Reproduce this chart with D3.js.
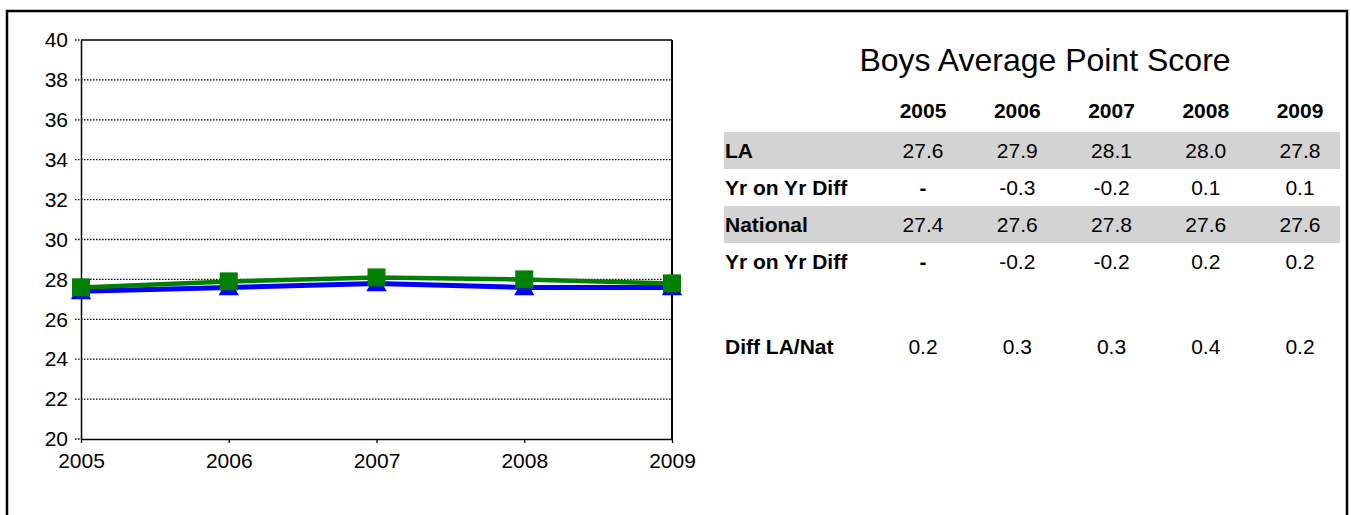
<!DOCTYPE html>
<html>
<head>
<meta charset="utf-8">
<script src="https://cdn.jsdelivr.net/npm/d3@7"></script>
<style>
  html, body { margin: 0; padding: 0; background: #fff; }
  svg { display: block; }
  text { font-family: "Liberation Sans", Arial, sans-serif; fill: #000; }
</style>
</head>
<body>
<svg id="chart" width="1351" height="515"></svg>
<script>
// ---- data ----
const years = ["2005", "2006", "2007", "2008", "2009"];
const laValues = [27.6, 27.9, 28.1, 28.0, 27.8];
const nationalValues = [27.4, 27.6, 27.8, 27.6, 27.6];
const laYoY = ["-", "-0.3", "-0.2", "0.1", "0.1"];
const nationalYoY = ["-", "-0.2", "-0.2", "0.2", "0.2"];
const diffLaNat = ["0.2", "0.3", "0.3", "0.4", "0.2"];
const yTicks = [20, 22, 24, 26, 28, 30, 32, 34, 36, 38, 40];
const title = "Boys Average Point Score";

const svg = d3.select("#chart");

// outer border
svg.append("rect")
  .attr("x", 7).attr("y", 11).attr("width", 1340).attr("height", 530)
  .attr("fill", "#fff").attr("stroke", "#000").attr("stroke-width", 2.5);

// ---- line chart ----
const plot = { left: 81, right: 672, top: 40, bottom: 439 };
const x = d3.scalePoint().domain(years).range([plot.left, plot.right]);
const y = d3.scaleLinear().domain([20, 40]).range([plot.bottom, plot.top]);

const g = svg.append("g");

// gridlines + left dotted ticks
g.selectAll("line.grid").data(yTicks).enter().append("line")
  .attr("class", "grid")
  .attr("x1", plot.left - 6)
  .attr("x2", d => (d === 20 || d === 40) ? plot.left : plot.right)
  .attr("y1", d => y(d)).attr("y2", d => y(d))
  .attr("stroke", "#000").attr("stroke-width", 1.3)
  .attr("stroke-dasharray", "1.5,1.5");

// plot frame
g.append("line").attr("x1", plot.left).attr("x2", plot.right)
  .attr("y1", plot.top).attr("y2", plot.top)
  .attr("stroke", "#000").attr("stroke-width", 1.5);
g.append("line").attr("x1", plot.right).attr("x2", plot.right)
  .attr("y1", plot.top).attr("y2", plot.bottom)
  .attr("stroke", "#000").attr("stroke-width", 2);

// y axis
const yAxis = d3.axisLeft(y).tickValues(yTicks).tickSize(0).tickPadding(13);
const yg = g.append("g").attr("transform", `translate(${plot.left},0)`).call(yAxis);
yg.select(".domain").attr("stroke", "#000").attr("stroke-width", 1.5);
yg.selectAll("text").style("font-size", "21px")
  .style("font-family", "'Liberation Sans', Arial, sans-serif");

// x axis
const xAxis = d3.axisBottom(x).tickSize(4).tickPadding(10).tickSizeOuter(0);
const xg = g.append("g").attr("transform", `translate(0,${plot.bottom})`).call(xAxis);
xg.select(".domain").attr("stroke", "#000").attr("stroke-width", 1.5);
xg.selectAll(".tick line").attr("stroke", "#000").attr("stroke-width", 1.3);
xg.selectAll("text").style("font-size", "21px")
  .style("font-family", "'Liberation Sans', Arial, sans-serif");

const line = d3.line().x((d, i) => x(years[i])).y(d => y(d));

// national (blue, triangles)
g.append("path").datum(nationalValues)
  .attr("d", line).attr("fill", "none")
  .attr("stroke", "#0000ff").attr("stroke-width", 5);
const tri = d3.symbol().type(d3.symbolTriangle).size(180);
g.selectAll("path.tri").data(nationalValues).enter().append("path")
  .attr("class", "tri")
  .attr("d", tri)
  .attr("transform", (d, i) => `translate(${x(years[i])},${y(d) + 2})`)
  .attr("fill", "#0000ff");

// LA (green, squares)
g.append("path").datum(laValues)
  .attr("d", line).attr("fill", "none")
  .attr("stroke", "#008000").attr("stroke-width", 4.5);
const sq = 18;
g.selectAll("rect.sq").data(laValues).enter().append("rect")
  .attr("class", "sq")
  .attr("x", (d, i) => x(years[i]) - sq / 2)
  .attr("y", d => y(d) - sq / 2)
  .attr("width", sq).attr("height", sq)
  .attr("fill", "#008000");

// ---- table ----
const col = d3.scalePoint().domain(years).range([923, 1300]);
const labelX = 725;
const bandLeft = 724, bandRight = 1340;

svg.append("text").attr("x", 1045).attr("y", 71)
  .attr("text-anchor", "middle").style("font-size", "32px").text(title);

// header
svg.selectAll("text.hdr").data(years).enter().append("text")
  .attr("class", "hdr")
  .attr("x", d => col(d)).attr("y", 118)
  .attr("text-anchor", "middle")
  .style("font-size", "21px").style("font-weight", "bold")
  .text(d => d);

const rows = [
  { label: "LA", values: laValues.map(v => v.toFixed(1)), top: 132, shade: true },
  { label: "Yr on Yr Diff", values: laYoY, top: 169, shade: false },
  { label: "National", values: nationalValues.map(v => v.toFixed(1)), top: 206, shade: true },
  { label: "Yr on Yr Diff", values: nationalYoY, top: 243, shade: false },
  { label: "Diff LA/Nat", values: diffLaNat, top: 328, shade: false }
];
const rowH = 37;

rows.forEach(r => {
  if (r.shade) {
    svg.append("rect").attr("x", bandLeft).attr("y", r.top)
      .attr("width", bandRight - bandLeft).attr("height", rowH)
      .attr("fill", "#d3d3d3");
  }
  const cy = r.top + rowH / 2;
  svg.append("text").attr("x", labelX).attr("y", cy)
    .attr("dy", "0.36em")
    .style("font-size", "21px").style("font-weight", "bold")
    .text(r.label);
  svg.selectAll(null).data(r.values).enter().append("text")
    .attr("x", (d, i) => col(years[i])).attr("y", cy)
    .attr("dy", "0.36em")
    .attr("text-anchor", "middle")
    .style("font-size", "21px")
    .style("font-weight", d => d === "-" ? "bold" : "normal")
    .text(d => d);
});
</script>
</body>
</html>
